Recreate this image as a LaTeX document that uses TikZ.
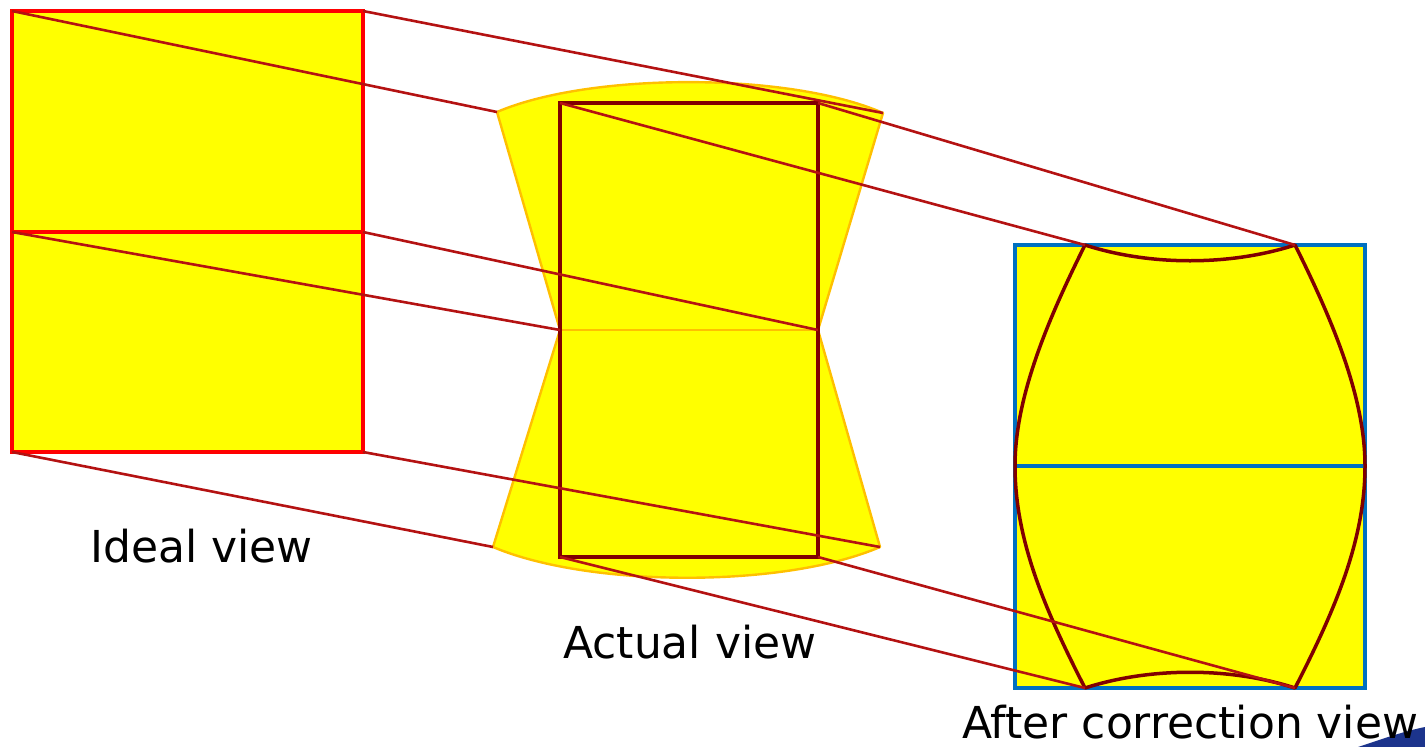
\documentclass[tikz,border=0pt]{standalone}
\usepackage{fontspec}
\setmainfont{DejaVu Sans}
\definecolor{connred}{RGB}{180,18,18}
\definecolor{maroon}{RGB}{128,0,0}
\definecolor{lensorange}{RGB}{255,192,0}
\definecolor{boxblue}{RGB}{0,112,192}
\definecolor{navy}{RGB}{28,52,140}
\definecolor{pureyellow}{RGB}{255,255,0}
\definecolor{purered}{RGB}{255,0,0}
\begin{document}
\begin{tikzpicture}[x=1pt,y=-1pt,
  conn/.style={draw=connred,line width=2.6pt},
  idealbox/.style={draw=purered,line width=3.5pt,fill=pureyellow},
  lensfill/.style={draw=lensorange,line width=2.4pt,fill=pureyellow,line join=round},
  innerrect/.style={draw=maroon,line width=4pt},
  bluebox/.style={draw=boxblue,line width=3.5pt,fill=pureyellow},
  barrel/.style={draw=maroon,line width=3.5pt},
  lbl/.style={anchor=base west,inner sep=0pt,font=\fontsize{44}{52}\selectfont}]
\useasboundingbox (0,0) rectangle (1425,747);
% decoration bottom right
\fill[navy] (1358,747) .. controls (1385,738) and (1405,731) .. (1425,727) -- (1425,747) -- cycle;
% ideal view corners
\coordinate (L1) at (12,11);
\coordinate (L2) at (363,11);
\coordinate (L3) at (12,232);
\coordinate (L4) at (363,232);
\coordinate (L5) at (12,452);
\coordinate (L6) at (363,452);
% actual view
\coordinate (Ytl) at (497,112);
\coordinate (Ytr) at (883,113);
\coordinate (Ybl) at (493,547);
\coordinate (Ybr) at (880,547);
\coordinate (Ml) at (560,330);
\coordinate (Mr) at (818,330);
\coordinate (Itl) at (560,103);
\coordinate (Itr) at (818,103);
\coordinate (Ibl) at (560,557);
\coordinate (Ibr) at (818,557);
% after correction view
\coordinate (Rtl) at (1085,245);
\coordinate (Rtr) at (1295,245);
\coordinate (Rbl) at (1085,688);
\coordinate (Rbr) at (1295,688);
\coordinate (Rml) at (1015,466);
\coordinate (Rmr) at (1365,466);
% ideal box
\path[idealbox] (L1) rectangle (L6);
\draw[purered,line width=3.5pt] (L3) -- (L4);
% actual view lens shape
\path[lensfill] (Ytl) .. controls (590,72) and (790,72) .. (Ytr)
  -- (Mr) -- (Ybr) .. controls (785,588) and (590,588) .. (Ybl) -- (Ml) -- cycle;
\draw[lensorange,line width=2.4pt] (Ml) -- (Mr);
\draw[innerrect] (Itl) rectangle (Ibr);
% after correction view
\path[bluebox] (1015,245) rectangle (1365,688);
\draw[boxblue,line width=3.5pt] (Rml) -- (Rmr);
\draw[barrel,line join=round] (Rtl) .. controls (1150,266) and (1230,266) .. (Rtr)
  .. controls (1335,325) and (1365,400) .. (Rmr)
  .. controls (1365,540) and (1335,610) .. (Rbr)
  .. controls (1230,667) and (1150,667) .. (Rbl)
  .. controls (1045,610) and (1015,540) .. (Rml)
  .. controls (1015,400) and (1045,325) .. (Rtl) -- cycle;
% connectors
\draw[conn] (L1) -- (Ytl);
\draw[conn] (L2) -- (Ytr);
\draw[conn] (L3) -- (Ml);
\draw[conn] (L4) -- (Mr);
\draw[conn] (L5) -- (Ybl);
\draw[conn] (L6) -- (Ybr);
\draw[conn] (Itl) -- (Rtl);
\draw[conn] (Itr) -- (Rtr);
\draw[conn] (Ibl) -- (Rbl);
\draw[conn] (Ibr) -- (Rbr);
% labels
\node[lbl] (ideal) at (90,562) {Ideal view};
\node[lbl] (actual) at (563,658) {Actual view};
\node[lbl] (after) at (962,738) {After correction view};
\end{tikzpicture}
\end{document}
